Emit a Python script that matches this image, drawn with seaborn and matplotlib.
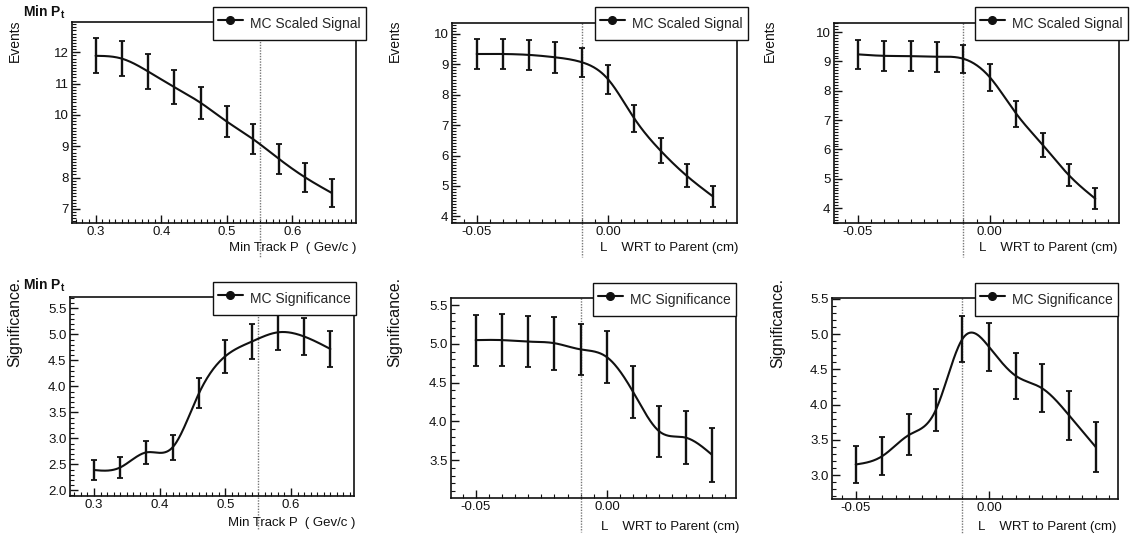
import numpy as np
import pandas as pd
import matplotlib
matplotlib.use("Agg")
import matplotlib.pyplot as plt
import seaborn as sns
from matplotlib.lines import Line2D
from matplotlib.ticker import MultipleLocator, FormatStrFormatter
from matplotlib.transforms import blended_transform_factory

sns.set_theme(style="white")
plt.rcParams["font.family"] = ["Liberation Sans", "DejaVu Sans"]
plt.rcParams["mathtext.fontset"] = "custom"
plt.rcParams["mathtext.rm"] = "Liberation Sans"
plt.rcParams["mathtext.bf"] = "Liberation Sans:bold"
plt.rcParams["mathtext.it"] = "Liberation Sans:italic"

# ---- cut scans -------------------------------------------------------------
track_p = [0.30, 0.34, 0.38, 0.42, 0.46, 0.50, 0.54, 0.58, 0.62, 0.66]
signal_p = [11.89, 11.80, 11.39, 10.89, 10.39, 9.79, 9.23, 8.59, 8.00, 7.51]
signal_p_err = [0.56, 0.56, 0.55, 0.55, 0.51, 0.50, 0.49, 0.48, 0.47, 0.44]
signif_p = [2.39, 2.44, 2.73, 2.83, 3.87, 4.58, 4.86, 5.04, 4.96, 4.72]
signif_p_err = [0.20, 0.20, 0.22, 0.24, 0.29, 0.32, 0.34, 0.34, 0.35, 0.35]

decay_l = [-0.05, -0.04, -0.03, -0.02, -0.01, 0.00, 0.01, 0.02, 0.03, 0.04]
signal_l1 = [9.34, 9.34, 9.31, 9.23, 9.07, 8.51, 7.22, 6.16, 5.33, 4.65]
signal_l1_err = [0.50, 0.50, 0.48, 0.50, 0.48, 0.48, 0.43, 0.41, 0.38, 0.35]
signal_l2 = [9.24, 9.19, 9.18, 9.16, 9.09, 8.46, 7.22, 6.16, 5.12, 4.32]
signal_l2_err = [0.50, 0.50, 0.51, 0.51, 0.47, 0.46, 0.44, 0.41, 0.38, 0.36]
signif_l1 = [5.05, 5.05, 5.03, 5.01, 4.93, 4.83, 4.38, 3.87, 3.79, 3.57]
signif_l1_err = [0.33, 0.34, 0.33, 0.34, 0.33, 0.34, 0.33, 0.33, 0.34, 0.35]
signif_l2 = [3.15, 3.27, 3.57, 3.92, 4.93, 4.82, 4.41, 4.23, 3.85, 3.40]
signif_l2_err = [0.26, 0.27, 0.29, 0.30, 0.33, 0.34, 0.33, 0.34, 0.35, 0.35]

cut_p = 0.55
cut_l = -0.01

W, H = 1135, 536


def natural_spline(x, y, n=300):
    """Smooth curve through the points (natural cubic spline)."""
    x = np.asarray(x, float)
    y = np.asarray(y, float)
    k = len(x)
    h = np.diff(x)
    A = np.zeros((k, k))
    b = np.zeros(k)
    A[0, 0] = A[-1, -1] = 1.0
    for i in range(1, k - 1):
        A[i, i - 1] = h[i - 1]
        A[i, i] = 2 * (h[i - 1] + h[i])
        A[i, i + 1] = h[i]
        b[i] = 6 * ((y[i + 1] - y[i]) / h[i] - (y[i] - y[i - 1]) / h[i - 1])
    M = np.linalg.solve(A, b)
    xs = np.linspace(x[0], x[-1], n)
    idx = np.clip(np.searchsorted(x, xs) - 1, 0, k - 2)
    x0, x1 = x[idx], x[idx + 1]
    hh = x1 - x0
    t0, t1 = x1 - xs, xs - x0
    ys = (M[idx] * t0 ** 3 + M[idx + 1] * t1 ** 3) / (6 * hh) \
        + (y[idx] / hh - M[idx] * hh / 6) * t0 \
        + (y[idx + 1] / hh - M[idx + 1] * hh / 6) * t1
    return xs, ys


def px_rect(l, t, r, b):
    return [l / W, 1 - b / H, (r - l) / W, (b - t) / H]


fig = plt.figure(figsize=(W / 100, H / 100), dpi=100)
fig.patch.set_facecolor("white")

INK = "#111111"

panels = [
    dict(rect=(72, 22, 356, 223), x=track_p, y=signal_p, e=signal_p_err,
         xlim=(0.264, 0.697), ylim=(6.55, 12.97), xmaj=0.1, xmin=0.01,
         ymaj=1, ymin=0.1, yfmt="%d", xfmt="%.1f", cut=cut_p,
         xlabel="Min Track P  ( Gev/c )", ylabel="Events", ysize=10,
         leg="MC Scaled Signal", leg_px=(213, 7), ylab_px=(15, 20),
         xlab_px=(356, 248), title=True, title_px=(23, 4)),
    dict(rect=(452, 23, 737, 223), x=decay_l, y=signal_l1, e=signal_l1_err,
         xlim=(-0.0594, 0.0491), ylim=(3.78, 10.36), xmaj=0.05, xmin=0.005,
         ymaj=1, ymin=0.1, yfmt="%d", xfmt="%.2f", cut=cut_l,
         xlabel="L    WRT to Parent (cm)", ylabel="Events", ysize=10,
         leg="MC Scaled Signal", leg_px=(595, 7), ylab_px=(395, 20),
         xlab_px=(738, 248), title=False),
    dict(rect=(834, 23, 1119, 223), x=decay_l, y=signal_l2, e=signal_l2_err,
         xlim=(-0.0591, 0.0490), ylim=(3.49, 10.31), xmaj=0.05, xmin=0.005,
         ymaj=1, ymin=0.1, yfmt="%d", xfmt="%.2f", cut=cut_l,
         xlabel="L    WRT to Parent (cm)", ylabel="Events", ysize=10,
         leg="MC Scaled Signal", leg_px=(975, 7), ylab_px=(770, 20),
         xlab_px=(1117, 248), title=False),
    dict(rect=(70, 297, 354, 496), x=track_p, y=signif_p, e=signif_p_err,
         xlim=(0.2635, 0.696), ylim=(1.89, 5.72), xmaj=0.1, xmin=0.01,
         ymaj=0.5, ymin=0.1, yfmt="%.1f", xfmt="%.1f", cut=cut_p,
         xlabel="Min Track P  ( Gev/c )", ylabel="Significance.", ysize=11.4,
         leg="MC Significance", leg_px=(213, 282), ylab_px=(15, 277),
         xlab_px=(355, 523), title=True, title_px=(23, 277)),
    dict(rect=(451, 298, 736, 498), x=decay_l, y=signif_l1, e=signif_l1_err,
         xlim=(-0.0594, 0.0492), ylim=(3.01, 5.594), xmaj=0.05, xmin=0.005,
         ymaj=0.5, ymin=0.1, yfmt="%.1f", xfmt="%.2f", cut=cut_l,
         xlabel="L    WRT to Parent (cm)", ylabel="Significance.", ysize=11.4,
         leg="MC Significance", leg_px=(593, 283), ylab_px=(395, 277),
         xlab_px=(739, 527), title=False),
    dict(rect=(832, 298, 1118, 499), x=decay_l, y=signif_l2, e=signif_l2_err,
         xlim=(-0.0589, 0.0484), ylim=(2.66, 5.514), xmaj=0.05, xmin=0.005,
         ymaj=0.5, ymin=0.1, yfmt="%.1f", xfmt="%.2f", cut=cut_l,
         xlabel="L    WRT to Parent (cm)", ylabel="Significance.", ysize=11.4,
         leg="MC Significance", leg_px=(975, 283), ylab_px=(778, 278),
         xlab_px=(1116, 527), title=False),
]

for p in panels:
    ax = fig.add_axes(px_rect(*p["rect"]))
    ax.set_facecolor("white")

    # smooth curve through the measured points
    xs, ys = natural_spline(p["x"], p["y"])
    curve = pd.DataFrame({"x": xs, "y": ys})
    sns.lineplot(data=curve, x="x", y="y", ax=ax, color=INK, lw=1.5,
                 estimator=None, sort=False, legend=False)

    # error bars
    ax.errorbar(p["x"], p["y"], yerr=p["e"], fmt="none", ecolor=INK,
                elinewidth=1.7, capsize=2.0, capthick=1.3, zorder=3)

    # cut position marker, running down through the axis title
    tr = blended_transform_factory(ax.transData, ax.transAxes)
    ax.add_line(Line2D([p["cut"], p["cut"]], [1.0, -0.17], transform=tr,
                       color="#777777", lw=1.0, ls=(0, (1, 1)),
                       clip_on=False, zorder=1))

    ax.set_xlim(*p["xlim"])
    ax.set_ylim(*p["ylim"])
    ax.xaxis.set_major_locator(MultipleLocator(p["xmaj"]))
    ax.xaxis.set_minor_locator(MultipleLocator(p["xmin"]))
    ax.yaxis.set_major_locator(MultipleLocator(p["ymaj"]))
    ax.yaxis.set_minor_locator(MultipleLocator(p["ymin"]))
    ax.xaxis.set_major_formatter(FormatStrFormatter(p["xfmt"]))
    ax.yaxis.set_major_formatter(FormatStrFormatter(p["yfmt"]))
    ax.tick_params(which="both", direction="in", top=False, right=False,
                   bottom=True, left=True, color=INK, labelcolor=INK,
                   labelsize=9.5)
    ax.tick_params(which="major", length=6, width=1.0, pad=2.5)
    ax.tick_params(which="minor", length=3, width=0.8)
    ax.set_xlabel("")
    ax.set_ylabel("")
    for s in ax.spines.values():
        s.set_color(INK)
        s.set_linewidth(1.2)
        s.set_visible(True)
    ax.grid(False)

    # legend box overlapping the upper right corner
    handle = Line2D([], [], color=INK, lw=1.5, marker="o", markersize=5.5,
                    markerfacecolor=INK)
    lx, ly = p["leg_px"]
    leg = ax.legend([handle], [p["leg"]], loc="upper left",
                    bbox_to_anchor=(lx / W, 1 - ly / H),
                    bbox_transform=fig.transFigure, borderaxespad=0,
                    fontsize=10, frameon=True, fancybox=False,
                    borderpad=0.35, handlelength=1.8, handleheight=2.15,
                    handletextpad=0.55, framealpha=1.0)
    leg.get_frame().set_edgecolor(INK)
    leg.get_frame().set_linewidth(1.0)
    leg.set_zorder(10)
    leg.set_clip_on(False)

    # axis titles in fixed positions
    yx, yy = p["ylab_px"]
    fig.text(yx / W, 1 - yy / H, p["ylabel"], rotation=90, ha="center",
             va="top", fontsize=p["ysize"], color=INK)
    xx, xy = p["xlab_px"]
    fig.text(xx / W, 1 - xy / H, p["xlabel"], ha="right", va="center",
             fontsize=9.5, color=INK)
    if p["title"]:
        tx, ty = p["title_px"]
        fig.text(tx / W, 1 - ty / H, r"$\mathbf{Min\ P_t}$", ha="left",
                 va="top", fontsize=10, color=INK)

fig.savefig("out.png", dpi=100, facecolor="white")
